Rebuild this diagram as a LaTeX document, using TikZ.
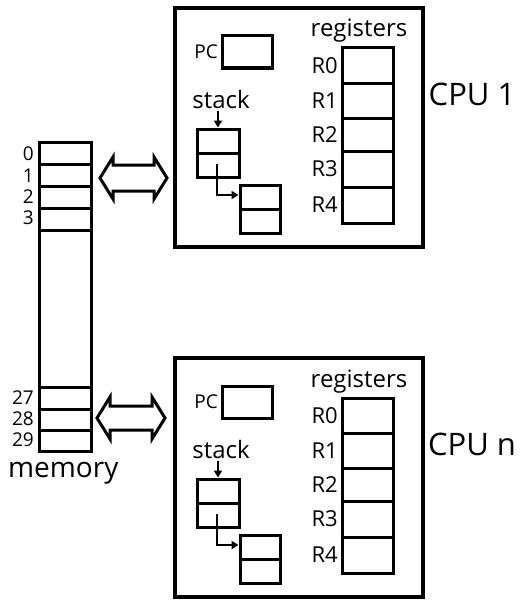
\documentclass[tikz,border=0pt]{standalone}
\usepackage{fontspec}
\setmainfont{Open Sans}
\usetikzlibrary{arrows.meta}
\begin{document}
\begin{tikzpicture}[x=1pt,y=-1pt,line join=miter]
\tikzset{
  outer/.style={draw,line width=3.5pt},
  cell/.style={draw,line width=3pt},
  box/.style={draw,line width=3pt,inner sep=0pt,minimum width=#1},
  lbl/.style={font=\fontsize{22}{26}\selectfont,inner sep=0pt},
  wide/.style={font=\fontsize{24}{28}\selectfont,inner sep=0pt},
  small/.style={font=\fontsize{19}{22}\selectfont,inner sep=0pt},
  big/.style={font=\fontsize{31}{36}\selectfont,inner sep=0pt},
  ptr/.style={line width=2.5pt,-{Triangle[length=7pt,width=8pt]}},
}
\fill[white] (0,0) rectangle (524,602);
\useasboundingbox (0,0) rectangle (524,602);

% memory
\node[cell,inner sep=0pt,minimum width=52pt,minimum height=309pt] (mem) at (65,296.5) {};
\foreach \yy in {164,186,208,230,387,409,430}
  \draw[cell] (mem.west |- 0,\yy) -- (mem.east |- 0,\yy);
\foreach \lab/\yy in {0/154,1/176,2/197,3/218,27/398,28/419,29/440}
  \node[small,anchor=east] (m\lab) at (34,\yy) {\lab};
\node[big,anchor=west,font=\fontsize{28}{33}\selectfont] (memlabel) at (8,473) {memory};

% double arrows
\draw[cell] (100,178) -- (113,157) -- (113,165) -- (154,165) -- (154,157) -- (167,178)
  -- (154,199) -- (154,191) -- (113,191) -- (113,199) -- cycle;
\draw[cell] (97,418) -- (110,397) -- (110,406) -- (152,406) -- (152,397) -- (165,418)
  -- (152,439) -- (152,430) -- (110,430) -- (110,439) -- cycle;

% CPUs
\foreach \off/\nm in {0/1,350/n}{
\begin{scope}[yshift=-\off pt,name prefix=cpu\nm-]
  \node[outer,inner sep=0pt,minimum width=248pt,minimum height=239pt] (frame) at (299,127.5) {};
  \node[small,anchor=east] (pclabel) at (218,52) {PC};
  \node[box=50pt,minimum height=32pt] (pc) at (247,52) {};
  \node[wide,anchor=base] (reglabel) at (359,37) {registers};
  \node[box=51pt,minimum height=175pt] (regs) at (367.5,135.5) {};
  \foreach \yy in {83,118,151,187}
    \draw[cell] (regs.west |- 0,\yy) -- (regs.east |- 0,\yy);
  \foreach \r/\yy in {R0/66,R1/101,R2/135,R3/169,R4/205}
    \node[lbl,anchor=east] (\r) at (338,\yy) {\r};
  \node[wide,anchor=base] (stacklabel) at (221,108) {stack};
  \node[box=42pt,minimum height=48pt] (s1) at (218,153) {};
  \draw[cell] (s1.west) -- (s1.east);
  \node[box=40pt,minimum height=48pt] (s2) at (260,209) {};
  \draw[cell] (s2.west) -- (s2.east);
  \draw[ptr] (s1.north |- stacklabel.south) ++(0,3) -- (s1.north);
  \coordinate (s1link) at (217,164);
  \draw[ptr] (s1link) |- (s2.west |- 0,195);
  \node[big] (cpulabel) at (472,94) {CPU \nm};
\end{scope}
}
\end{tikzpicture}
\end{document}
